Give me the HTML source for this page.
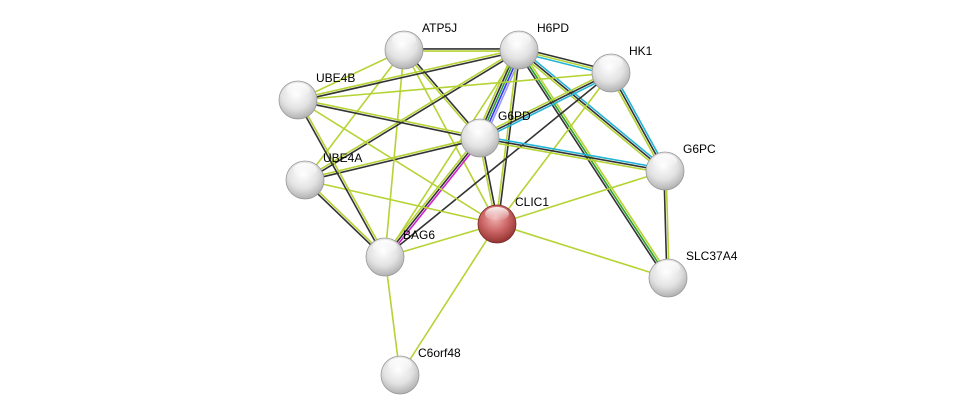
<!DOCTYPE html>
<html><head><meta charset="utf-8"><style>
html,body{margin:0;padding:0;background:#fff;width:975px;height:420px;overflow:hidden}
svg text{font-family:"Liberation Sans",sans-serif;font-size:12px;fill:#000}
</style></head><body>
<svg id="s" width="975" height="420" xmlns="http://www.w3.org/2000/svg">
<defs>
<radialGradient id="gw" cx="0.45" cy="0.35" r="0.7">
<stop offset="0" stop-color="#ffffff"/><stop offset="0.55" stop-color="#e2e2e2"/><stop offset="1" stop-color="#a8a8a8"/>
</radialGradient>
<radialGradient id="gr" cx="0.45" cy="0.35" r="0.7">
<stop offset="0" stop-color="#f0b0b0"/><stop offset="0.5" stop-color="#cc6666"/><stop offset="1" stop-color="#8a2a2a"/>
</radialGradient>
<linearGradient id="hl" x1="0" y1="0" x2="0" y2="1">
<stop offset="0" stop-color="#fff" stop-opacity="0.9"/><stop offset="1" stop-color="#fff" stop-opacity="0"/>
</linearGradient>
</defs>
<g id="edges"></g><g id="nodes"></g>
</svg>
<script>
var N={ATP5J:[404,50],H6PD:[519,50],HK1:[611,73],UBE4B:[298,100],G6PD:[480,138],UBE4A:[305,180],G6PC:[665,171],CLIC1:[497,224],BAG6:[385,257],SLC37A4:[668,278],C6orf48:[400,375]};
var C={y:"#b5d334",k:"#333333",c:"#22b5d8",g:"#2ca02c",b:"#3333ff",m:"#d020d0",p:"#9999ff"};
var E=[["ATP5J","H6PD","ky"],["ATP5J","G6PD","ky"],["ATP5J","CLIC1","y"],["ATP5J","BAG6","y"],["ATP5J","UBE4B","y"],["ATP5J","UBE4A","y"],
["H6PD","HK1","kyc"],["H6PD","G6PD","pbgky"],["H6PD","CLIC1","ky"],["H6PD","G6PC","cky"],["H6PD","SLC37A4","ygk"],["H6PD","UBE4B","ky"],["H6PD","UBE4A","ky"],["H6PD","BAG6","y"],
["HK1","G6PD","cky"],["HK1","G6PC","cky"],["HK1","CLIC1","y"],["HK1","BAG6","k"],["HK1","UBE4B","y"],
["G6PD","G6PC","cky"],["G6PD","CLIC1","ky"],["G6PD","BAG6","mky"],["G6PD","UBE4A","ky"],["G6PD","UBE4B","ky"],
["G6PC","SLC37A4","yk"],["G6PC","CLIC1","y"],["CLIC1","BAG6","y"],["CLIC1","SLC37A4","y"],["CLIC1","C6orf48","y"],["CLIC1","UBE4A","y"],["CLIC1","UBE4B","y"],
["BAG6","UBE4A","ky"],["BAG6","UBE4B","ky"],["BAG6","C6orf48","y"]];
var ns="http://www.w3.org/2000/svg",eg=document.getElementById("edges"),ng=document.getElementById("nodes");
E.forEach(function(e){var a=N[e[0]],b=N[e[1]],dx=b[0]-a[0],dy=b[1]-a[1],L=Math.hypot(dx,dy),px=-dy/L,py=dx/L,n=e[2].length;
for(var i=0;i<n;i++){var o=(i-(n-1)/2)*2.2;var l=document.createElementNS(ns,"line");
l.setAttribute("x1",a[0]+px*o);l.setAttribute("y1",a[1]+py*o);l.setAttribute("x2",b[0]+px*o);l.setAttribute("y2",b[1]+py*o);
l.setAttribute("stroke",C[e[2][i]]);l.setAttribute("stroke-width","1.6");eg.appendChild(l);}});
for(var k in N){var p=N[k];var c=document.createElementNS(ns,"circle");c.setAttribute("cx",p[0]);c.setAttribute("cy",p[1]);c.setAttribute("r",19);
c.setAttribute("fill",k=="CLIC1"?"url(#gr)":"url(#gw)");c.setAttribute("stroke",k=="CLIC1"?"#7a2a2a":"#999");c.setAttribute("stroke-width","0.8");ng.appendChild(c);
var h=document.createElementNS(ns,"ellipse");h.setAttribute("cx",p[0]);h.setAttribute("cy",p[1]-10);h.setAttribute("rx",12);h.setAttribute("ry",7);h.setAttribute("fill","url(#hl)");ng.appendChild(h);
var t=document.createElementNS(ns,"text");t.setAttribute("x",p[0]+18);t.setAttribute("y",p[1]-18);t.textContent=k;ng.appendChild(t);}
</script>
</body></html>
